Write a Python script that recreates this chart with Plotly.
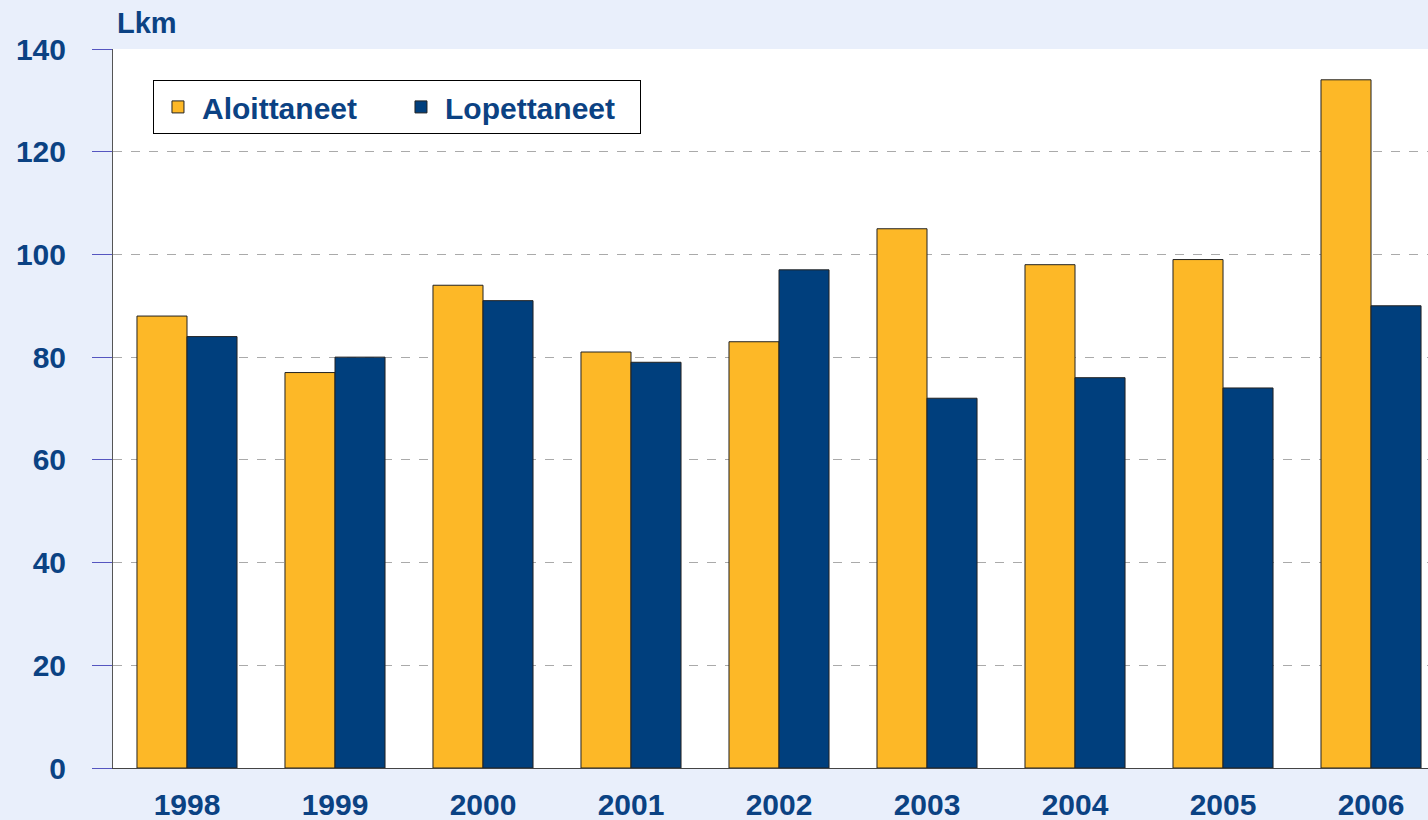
import plotly.graph_objects as go

years = ["1998", "1999", "2000", "2001", "2002", "2003", "2004", "2005", "2006"]
aloittaneet = [88, 77, 94, 81, 83, 105, 98, 99, 134]
lopettaneet = [84, 80, 91, 79, 97, 72, 76, 74, 90]
y_ticks = [0, 20, 40, 60, 80, 100, 120, 140]

text_color = "#0B4283"
font_family = "Liberation Sans, Arial, sans-serif"

fig = go.Figure()
fig.add_trace(go.Bar(
    x=years, y=aloittaneet, name="Aloittaneet",
    marker=dict(color="#FDB827", line=dict(color="#222222", width=1)),
))
fig.add_trace(go.Bar(
    x=years, y=lopettaneet, name="Lopettaneet",
    marker=dict(color="#003F7D", line=dict(color="#222222", width=1)),
))

fig.update_layout(
    width=1428, height=820,
    margin=dict(l=113, r=0, t=49, b=52, pad=0, autoexpand=False),
    paper_bgcolor="#E9EFFB",
    plot_bgcolor="#FFFFFF",
    barmode="group",
    bargap=0.324,
    bargroupgap=0,
    font=dict(family=font_family, color=text_color, size=30),
    showlegend=True,
    legend=dict(
        orientation="h",
        x=0.0304, y=0.957, xanchor="left", yanchor="top",
        bgcolor="#FFFFFF", bordercolor="#000000", borderwidth=1,
        font=dict(family=font_family, size=30, color=text_color, weight="bold"),
        itemwidth=38,
        entrywidth=190,
        traceorder="normal",
    ),
    xaxis=dict(
        type="category",
        range=[-0.5, 8.385],
        automargin=False,
        showgrid=False,
        showline=True, linecolor="#444444", linewidth=1,
        ticks="", ticklabelstandoff=10,
        tickfont=dict(family=font_family, size=30, color=text_color, weight="bold"),
    ),
    yaxis=dict(
        range=[0, 140],
        automargin=False,
        tickvals=y_ticks,
        showgrid=True, gridcolor="#AAAAAA", griddash="dash", gridwidth=1,
        showline=True, linecolor="#555555", linewidth=1,
        ticks="outside", ticklen=20, tickcolor="#5555C0", tickwidth=1,
        ticklabelstandoff=20,
        tickfont=dict(family=font_family, size=30, color=text_color, weight="bold"),
        zeroline=False,
    ),
    annotations=[dict(
        text="<b>Lkm</b>", xref="paper", yref="paper",
        x=0.0015, y=1, xanchor="left", yanchor="bottom", yshift=8,
        showarrow=False,
        font=dict(family=font_family, size=29, color=text_color),
    )],
)

fig.write_html(
    "out.html",
    config={"displayModeBar": False},
    post_script="document.body.style.margin='0';document.body.style.overflow='hidden';",
)
